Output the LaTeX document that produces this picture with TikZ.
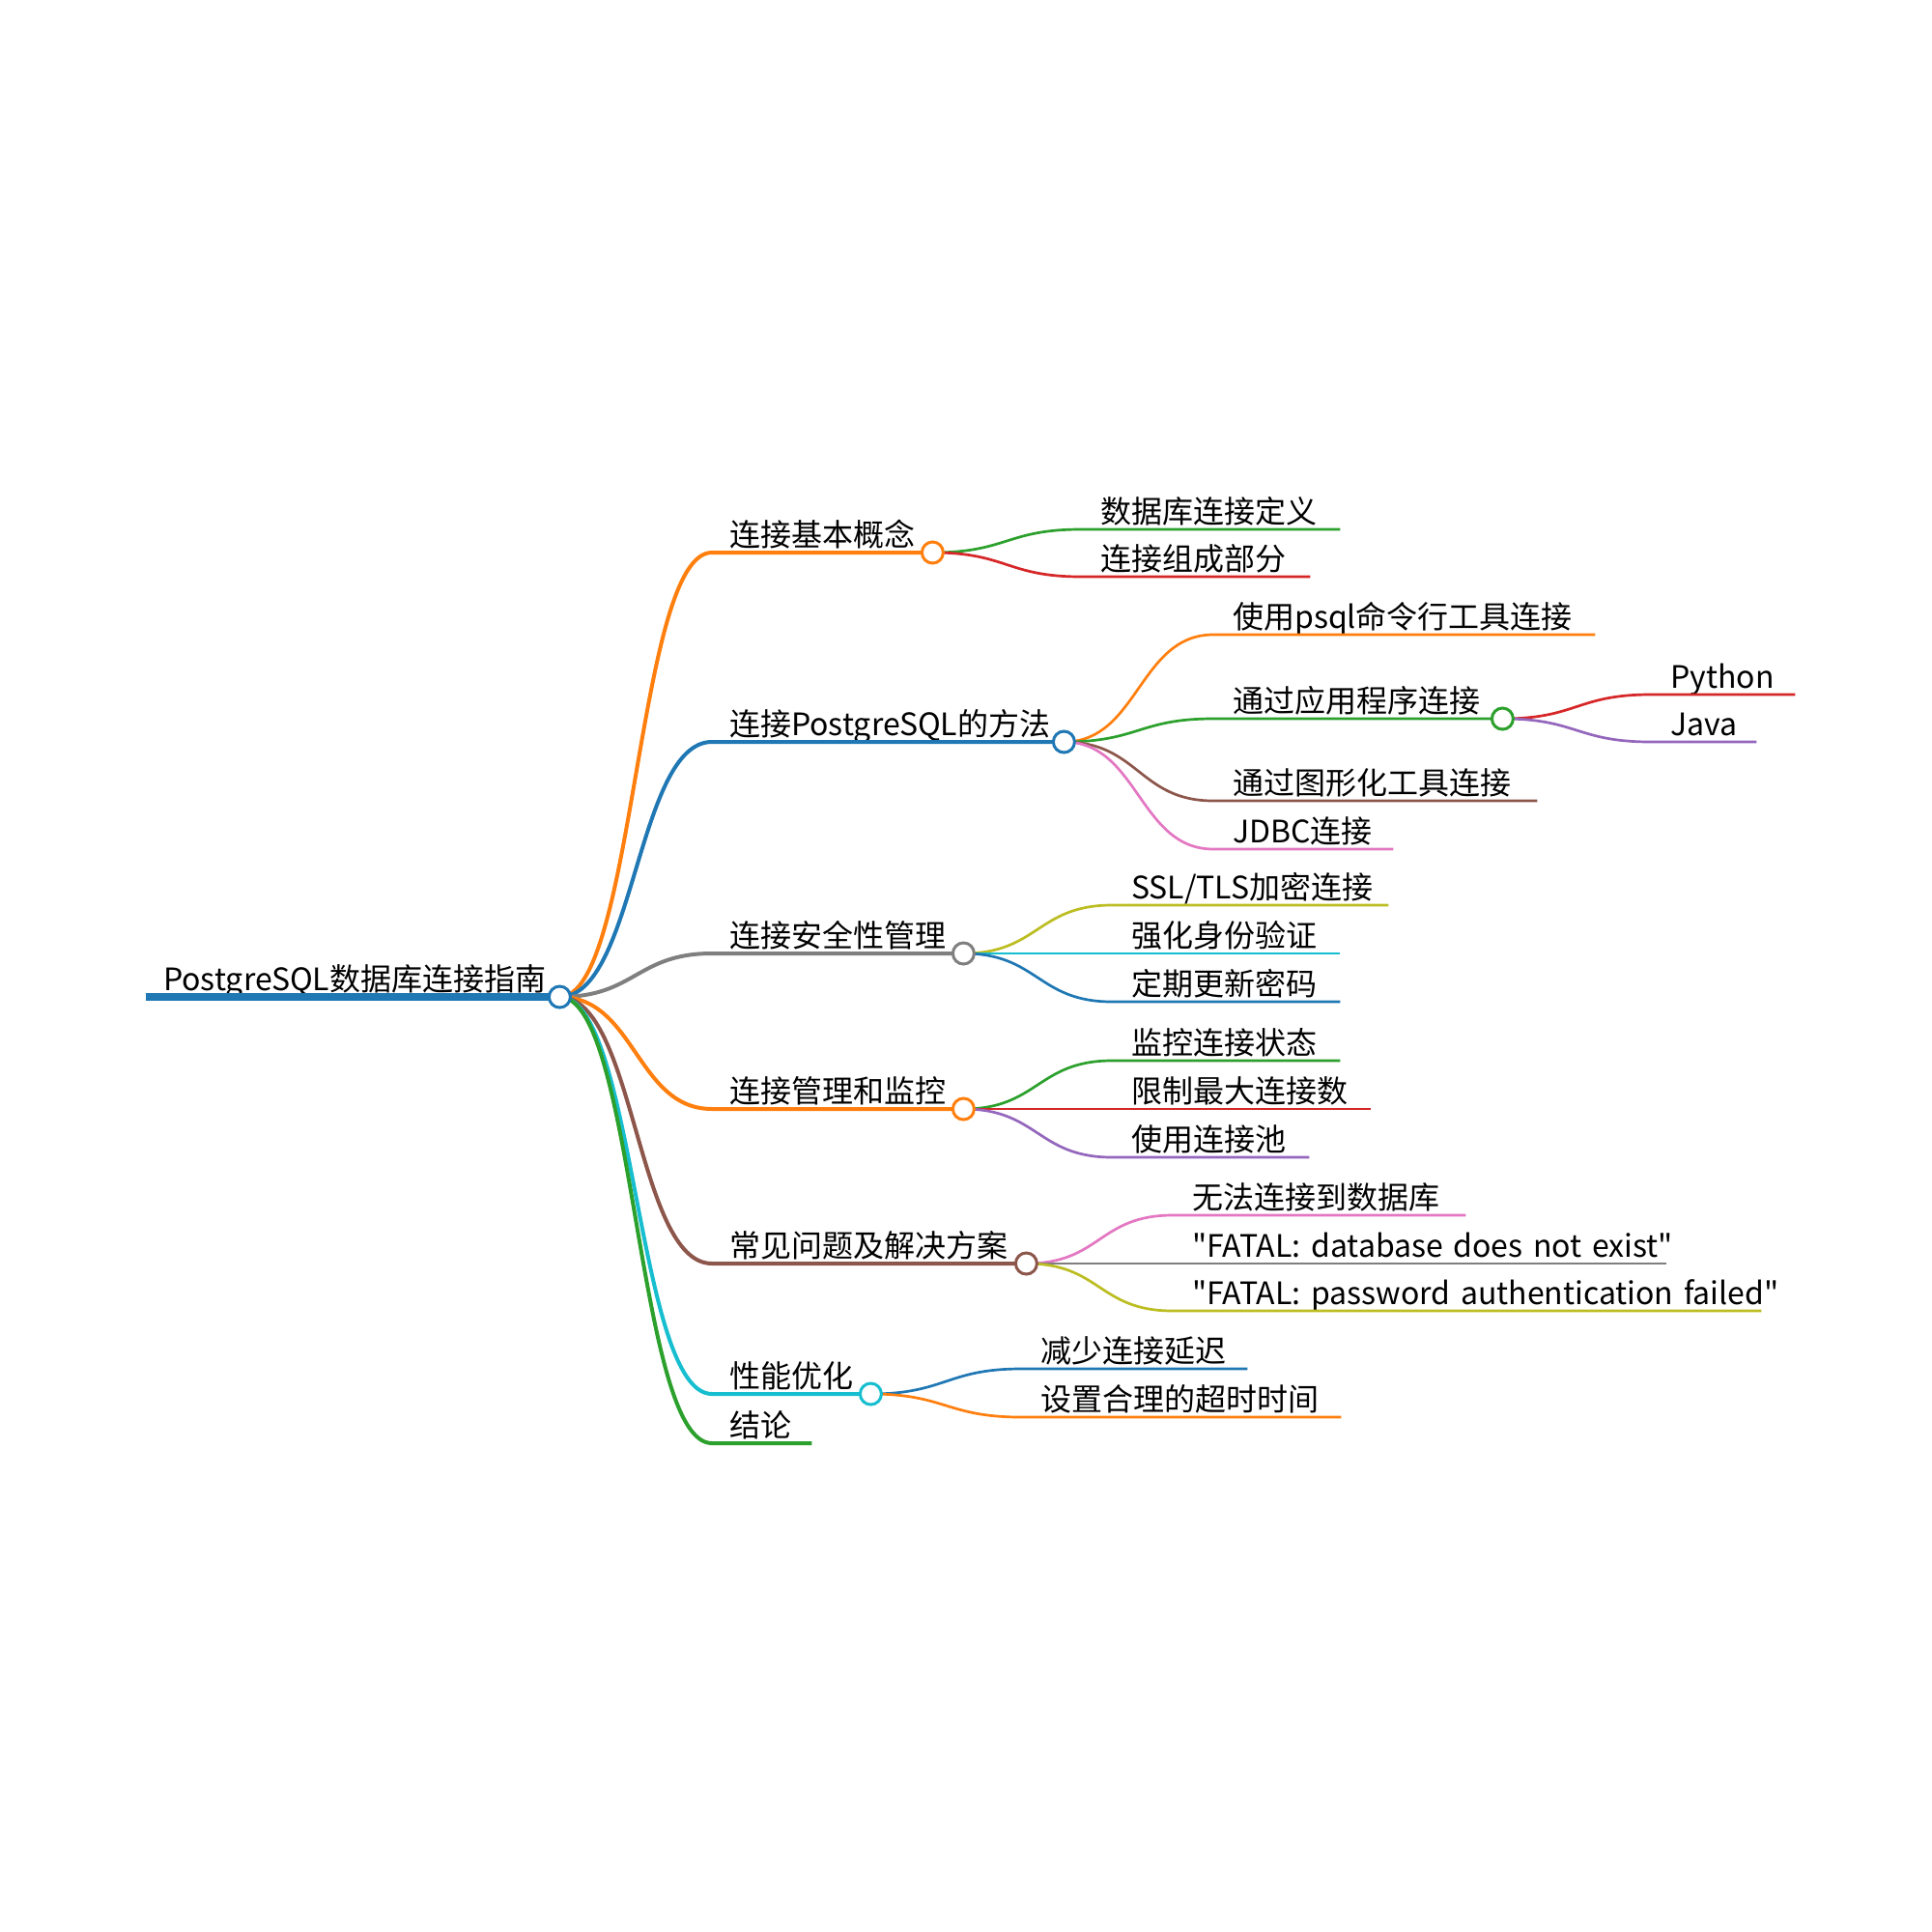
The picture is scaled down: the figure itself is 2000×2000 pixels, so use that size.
\documentclass[tikz,border=0pt]{standalone}
\usepackage{fontspec}
\setmainfont{Noto Sans CJK SC}[Ligatures=TeXOff]
\definecolor{cblue}{HTML}{1F77B4}
\definecolor{corange}{HTML}{FF7F0E}
\definecolor{cgreen}{HTML}{2CA02C}
\definecolor{cred}{HTML}{D62728}
\definecolor{cpurple}{HTML}{9467BD}
\definecolor{cbrown}{HTML}{8C564B}
\definecolor{cpink}{HTML}{E377C2}
\definecolor{cgray}{HTML}{7F7F7F}
\definecolor{colive}{HTML}{BCBD22}
\definecolor{ccyan}{HTML}{17BECF}
\begin{document}
\begin{tikzpicture}[x=1pt,y=-1pt,
    topic/.style={anchor=south west,inner xsep=20pt,inner ysep=6pt,text depth=0pt,align=left,font=\fontsize{32}{38}\selectfont},
    main/.style={topic,inner xsep=18pt},
    lv0/.style={line width=8pt},
    lv1/.style={line width=4pt},
    lv2/.style={line width=2.7pt},
    dot/.style={circle,draw=#1,fill=white,line width=3pt,minimum size=22pt,inner sep=0pt}]
    \useasboundingbox (0,0) rectangle (2000,2000);

    \node[main,text width=392pt] (root) at (151,1032) {PostgreSQL数据库连接指南};
    \node[main,text width=192pt] (b1) at (737,572) {连接基本概念};
    \node[main,text width=328pt] (b2) at (737,768) {连接PostgreSQL的方法};
    \node[main,text width=224pt] (b3) at (737,987) {连接安全性管理};
    \node[main,text width=224pt] (b4) at (737,1148) {连接管理和监控};
    \node[main,text width=289pt] (b5) at (737,1308) {常见问题及解决方案};
    \node[main,text width=128pt] (b6) at (737,1443) {性能优化};
    \node[main,text width=67pt] (b7) at (737,1494) {结论};

    \node[topic,text width=228pt] (b11) at (1119,548) {数据库连接定义};
    \node[topic,text width=197pt] (b12) at (1119,597) {连接组成部分};
    \node[topic,text width=355pt] (b21) at (1256,657) {使用psql命令行工具连接};
    \node[topic,text width=259pt] (b22) at (1256,744) {通过应用程序连接};
    \node[topic,text width=109pt] (b221) at (1709,719) {Python};
    \node[topic,text width=69pt] (b222) at (1709,768) {Java};
    \node[topic,text width=295pt] (b23) at (1256,829) {通过图形化工具连接};
    \node[topic,text width=146pt] (b24) at (1256,879) {JDBC连接};
    \node[topic,text width=246pt] (b31) at (1151,937) {SSL/TLS加密连接};
    \node[topic,text width=196pt] (b32) at (1151,987) {强化身份验证};
    \node[topic,text width=196pt] (b33) at (1151,1037) {定期更新密码};
    \node[topic,text width=196pt] (b41) at (1151,1098) {监控连接状态};
    \node[topic,text width=228pt] (b42) at (1151,1148) {限制最大连接数};
    \node[topic,text width=164pt] (b43) at (1151,1198) {使用连接池};
    \node[topic,text width=263pt] (b51) at (1214,1258) {无法连接到数据库};
    \node[topic,text width=471pt] (b52) at (1214,1308) {\mbox{"FATAL: database does not exist"}};
    \node[topic,text width=569pt] (b53) at (1214,1357) {\mbox{"FATAL: password authentication failed"}};
    \node[topic,text width=194pt] (b61) at (1057,1417) {减少连接延迟};
    \node[topic,text width=291pt] (b62) at (1057,1467) {设置合理的超时时间};

    \draw[lv0,cblue] (root.south west) -- (root.south east);
    \foreach \n/\c in {b1/corange,b2/cblue,b3/cgray,b4/corange,b5/cbrown,b6/ccyan,b7/cgreen}
        \draw[lv1,\c] (root.south east) .. controls +(78,0) and +(-78,0) .. (\n.south west) -- (\n.south east);
    \foreach \p/\n/\c in {b1/b11/cgreen,b1/b12/cred,b2/b21/corange,b2/b22/cgreen,b22/b221/cred,b22/b222/cpurple,
        b2/b23/cbrown,b2/b24/cpink,b3/b31/colive,b3/b32/ccyan,b3/b33/cblue,b4/b41/cgreen,b4/b42/cred,b4/b43/cpurple,
        b5/b51/cpink,b5/b52/cgray,b5/b53/colive,b6/b61/cblue,b6/b62/corange}
        \draw[lv2,\c] (\p.south east) .. controls +(77,0) and +(-77,0) .. (\n.south west) -- (\n.south east);

    \foreach \n/\c in {root/cblue,b1/corange,b2/cblue,b3/cgray,b4/corange,b5/cbrown,b6/ccyan,b22/cgreen}
        \node[dot=\c] (d\n) at (\n.south east) {};
\end{tikzpicture}
\end{document}
